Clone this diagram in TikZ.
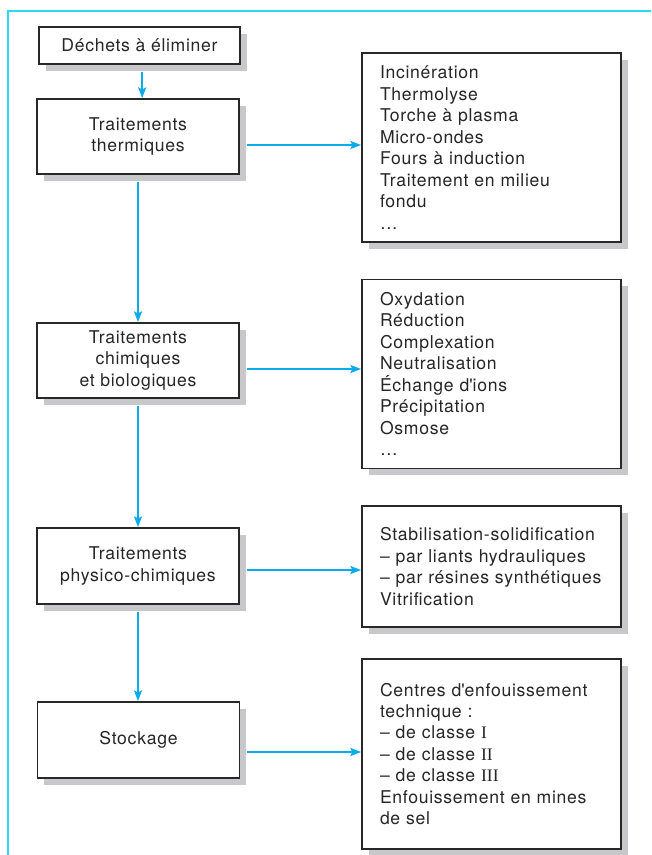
\documentclass[tikz,border=0pt]{standalone}
\usepackage{fontspec}
\setmainfont{TeX Gyre Heros}[LetterSpace=4]
\newfontfamily\romanfont{Liberation Serif}
\usetikzlibrary{arrows.meta,shadows,calc}
\definecolor{framecyan}{HTML}{2ED8EE}
\definecolor{arrowblue}{RGB}{10,170,235}
\definecolor{shadowgray}{RGB}{200,200,202}
\definecolor{boxline}{RGB}{40,40,40}
\begin{document}
\begin{tikzpicture}[x=0.75pt,y=-0.75pt,
  box/.style={draw=boxline, line width=1.4pt, fill=white,
    general shadow={fill=shadowgray, shadow xshift=4.9pt, shadow yshift=-4.9pt},
    font=\fontsize{13.2pt}{16.1pt}\selectfont, text=black!85, inner sep=0pt},
  lbox/.style={box, align=center, minimum width=151.5pt, minimum height=56.25pt},
  rbox/.style={box, align=left, text width=167.25pt, inner xsep=13.5pt, minimum height=141.75pt},
  arr/.style={draw=arrowblue, line width=1.2pt, -{Stealth[length=8pt,width=6pt,inset=1.5pt]}},
  framestyle/.style={draw=framecyan, line width=1.5pt}
]
\useasboundingbox (0,0) rectangle (651,855);
\coordinate (fbl) at (7.5,855);
\coordinate (ftl) at (7.5,11.5);
\coordinate (ftr) at (651,11.5);
\draw[framestyle] (fbl) -- (ftl) -- (ftr);

\node[lbox, minimum width=150.75pt, minimum height=27.75pt] (dechets) at (139.5,45.5) {Déchets à éliminer};
\node[lbox] (therm) at (138,136.5) {Traitements\\thermiques};
\node[lbox] (chim) at (138,360.5) {Traitements\\chimiques\\et biologiques};
\node[lbox, minimum height=57pt] (phys) at (138,566) {Traitements\\physico-chimiques};
\node[lbox, minimum height=57pt] (stock) at (138.5,740) {Stockage};

\node[rbox] (r1) at (491.5,147.5) {Incinération\\Thermolyse\\Torche à plasma\\Micro-ondes\\Fours à induction\\Traitement en milieu\\fondu\\…};
\node[rbox] (r2) at (491.5,374) {Oxydation\\Réduction\\Complexation\\Neutralisation\\Échange d\textquotesingle ions\\Précipitation\\Osmose\\…};
\node[rbox, minimum height=90.75pt] (r3) at (491.5,566.5) {Stabilisation-solidification\\\mbox{– par liants hydrauliques}\\\mbox{– par résines synthétiques}\\Vitrification};
\node[rbox, minimum height=142.5pt] (r4) at (491.5,754) {Centres d\textquotesingle enfouissement\\technique :\\– de classe {\romanfont I}\\– de classe {\romanfont II}\\– de classe {\romanfont III}\\Enfouissement en mines\\de sel};

\coordinate (h1) at (0,145);
\coordinate (h2) at (0,369);
\coordinate (h3) at (0,570);
\coordinate (h4) at (0,752);

\draw[arr] ([xshift=2pt,yshift=-5pt]dechets.south) -- ([xshift=2pt]dechets.south |- therm.north);
\draw[arr] ([yshift=-5pt]therm.south) -- (chim.north);
\draw[arr] ([yshift=-5pt]chim.south) -- (phys.north);
\draw[arr] ([yshift=-5pt]phys.south) -- (phys.south |- stock.north);

\draw[arr] ($(therm.east |- h1)+(5pt,0)$) -- (r1.west |- h1);
\draw[arr] ($(chim.east |- h2)+(5pt,0)$) -- (r2.west |- h2);
\draw[arr] ($(phys.east |- h3)+(5pt,0)$) -- (r3.west |- h3);
\draw[arr] ($(stock.east |- h4)+(5pt,0)$) -- (r4.west |- h4);
\end{tikzpicture}
\end{document}
